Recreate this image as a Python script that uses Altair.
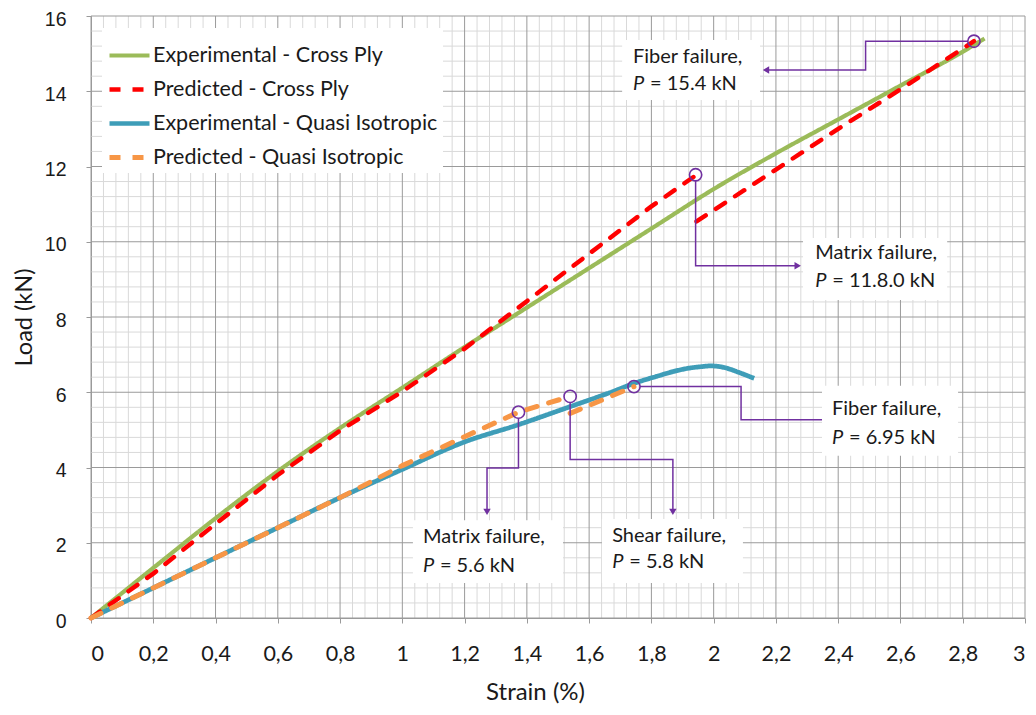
import altair as alt
import pandas as pd
import numpy as np

# ---------------- data ----------------
SERIES = ["Experimental - Cross Ply", "Predicted - Cross Ply",
          "Experimental - Quasi Isotropic", "Predicted - Quasi Isotropic"]
COLORS = ["#9BBB59", "#FF0000", "#3E9DB8", "#F79646"]
DASHES = [[1, 0], [11, 12], [1, 0], [11, 12]]
WIDTHS = [4.2, 5, 5.2, 4.6]

x_ticks = [0, 0.2, 0.4, 0.6, 0.8, 1.0, 1.2, 1.4, 1.6, 1.8, 2.0, 2.2, 2.4, 2.6, 2.8, 3.0]
y_ticks = [0, 2, 4, 6, 8, 10, 12, 14, 16]

# Experimental - Cross Ply
exp_cp_strain = [0, 0.2, 0.4, 0.6, 0.8, 1.0, 1.2, 1.4, 1.6, 1.8, 2.0, 2.2, 2.4, 2.6, 2.8, 2.87]
exp_cp_load = [0, 1.33, 2.65, 3.90, 5.05, 6.12, 7.20, 8.25, 9.30, 10.35, 11.40, 12.35, 13.25, 14.15, 15.05, 15.40]

# Predicted - Cross Ply (two branches)
pred_cp_strain_a = [0, 0.2, 0.4, 0.6, 0.8, 1.0, 1.2, 1.4, 1.6, 1.8, 1.94]
pred_cp_load_a = [0, 1.18, 2.50, 3.80, 4.98, 6.02, 7.16, 8.42, 9.68, 10.94, 11.75]
pred_cp_strain_b = [1.945, 2.2, 2.4, 2.6, 2.836]
pred_cp_load_b = [10.54, 11.92, 13.00, 14.05, 15.33]

# Experimental - Quasi Isotropic
exp_qi_strain = [0, 0.2, 0.4, 0.6, 0.8, 1.0, 1.2, 1.37, 1.54, 1.66, 1.76, 1.82, 1.87, 1.92,
                 1.96, 1.99, 2.02, 2.05, 2.08, 2.13]
exp_qi_load = [0, 0.80, 1.60, 2.40, 3.20, 3.95, 4.68, 5.13, 5.62, 5.97, 6.28, 6.43, 6.55, 6.64,
               6.68, 6.70, 6.68, 6.62, 6.53, 6.37]

# Predicted - Quasi Isotropic (two branches)
pred_qi_strain_a = [0, 0.2, 0.4, 0.6, 0.8, 1.0, 1.2, 1.373, 1.539]
pred_qi_load_a = [0, 0.80, 1.60, 2.40, 3.20, 4.05, 4.82, 5.47, 5.89]
pred_qi_strain_b = [1.539, 1.744]
pred_qi_load_b = [5.44, 6.15]

# Failure annotations
ann_id = ["fcp", "mcp", "fqi", "sqi", "mqi"]
ann_line1 = ["Fiber failure,", "Matrix failure,", "Fiber failure,", "Shear failure,", "Matrix failure,"]
ann_line2 = ["= 15.4 kN", "= 11.8.0 kN", "= 6.95 kN", "= 5.8 kN", "= 5.6 kN"]
circle_strain = [2.836, 1.942, 1.744, 1.539, 1.373]
circle_load = [15.33, 11.78, 6.15, 5.89, 5.47]
# text anchor (left, baseline of line 1, baseline of line 2)
text_strain = [1.741, 2.326, 2.380, 1.674, 1.066]
text_load1 = [14.75, 9.54, 5.40, 2.02, 1.99]
text_load2 = [14.03, 8.80, 4.62, 1.33, 1.22]
# white label boxes
box_x1 = [1.706, 2.287, 2.348, 1.641, 1.034]
box_x2 = [2.149, 2.750, 2.785, 2.094, 1.516]
box_y1 = [15.36, 10.10, 6.17, 2.63, 2.60]
box_y2 = [13.77, 8.45, 4.31, 0.93, 0.93]
# leader paths
path_strain = [[2.817, 2.488, 2.488, 2.168],
               [1.942, 1.942, 2.270],
               [1.763, 2.088, 2.088, 2.350],
               [1.539, 1.539, 1.869, 1.869],
               [1.373, 1.373, 1.272, 1.272]]
path_load = [[15.33, 15.33, 14.565, 14.565],
             [11.62, 9.36, 9.36],
             [6.15, 6.15, 5.27, 5.27],
             [5.73, 4.21, 4.21, 2.82],
             [5.31, 3.99, 3.99, 2.82]]
arrow_strain = [2.168, 2.270, 1.869, 1.272]
arrow_load = [14.565, 9.36, 2.82, 2.82]
arrow_shape = ["triangle-left", "triangle-right", "triangle-down", "triangle-down"]

# ---------------- tables ----------------
def branch(name, seg, xs, ys):
    return pd.DataFrame({"series": name, "seg": f"{name}-{seg}",
                         "strain": xs, "load": ys, "i": range(len(xs))})

exp_df = pd.concat([branch(SERIES[0], 0, exp_cp_strain, exp_cp_load),
                    branch(SERIES[2], 0, exp_qi_strain, exp_qi_load)])
pred_df = pd.concat([branch(SERIES[1], 0, pred_cp_strain_a, pred_cp_load_a),
                     branch(SERIES[1], 1, pred_cp_strain_b, pred_cp_load_b),
                     branch(SERIES[3], 0, pred_qi_strain_a, pred_qi_load_a),
                     branch(SERIES[3], 1, pred_qi_strain_b, pred_qi_load_b)])

ann_df = pd.DataFrame({"id": ann_id, "l1": ann_line1, "l2": ann_line2,
                       "cx": circle_strain, "cy": circle_load,
                       "tx": text_strain, "ty1": text_load1, "ty2": text_load2,
                       "bx1": box_x1, "bx2": box_x2, "by1": box_y1, "by2": box_y2})
path_df = pd.concat([pd.DataFrame({"id": ann_id[k], "x": path_strain[k], "y": path_load[k],
                                   "i": range(len(path_strain[k]))}) for k in range(len(ann_id))])
arrow_df = pd.DataFrame({"x": arrow_strain, "y": arrow_load, "shape": arrow_shape})

x_minor = pd.DataFrame({"v": [v for v in np.round(np.arange(0, 3.0001, 0.04), 3)
                              if abs(v / 0.2 - round(v / 0.2)) > 1e-6]})
x_major = pd.DataFrame({"v": x_ticks})
y_minor = pd.DataFrame({"v": [v for v in np.round(np.arange(0, 16.0001, 0.4), 3)
                              if abs(v / 2 - round(v / 2)) > 1e-6]})
y_major = pd.DataFrame({"v": y_ticks})

# ---------------- chart ----------------
W, H = 934, 602
FONT = "Lato"
TXT = "#1a1a1a"
PURPLE = "#7030A0"
MINOR, MAJOR = "#D9D9D9", "#9A9A9A"
xs = alt.Scale(domain=[0, 3], nice=False, zero=False)
ys = alt.Scale(domain=[0, 16], nice=False, zero=False)

x_axis = alt.Axis(values=x_ticks, grid=False, domainColor=MAJOR, tickColor=MAJOR, tickSize=5,
                  labelFont=FONT, labelFontSize=21.5, labelColor=TXT, labelPadding=20,
                  labelExpr="replace(format(datum.value, '.1~f'), '.', ',')",
                  title="Strain (%)", titleFont=FONT, titleFontSize=24, titleFontWeight="normal",
                  titleColor=TXT, titleX=444, titleY=74, titleAlign="center", titleBaseline="middle")
y_axis = alt.Axis(values=y_ticks, grid=False, domainColor=MAJOR, tickColor=MAJOR, tickSize=5,
                  labelFont="Liberation Sans", labelFontSize=19.5, labelColor=TXT, labelPadding=20,
                  labelOffset=3,
                  title="Load (kN)", titleFont=FONT, titleFontSize=23.5, titleFontWeight="normal",
                  titleColor=TXT, titleX=-67, titleY=301, titleAlign="center", titleBaseline="middle",
                  titleAngle=270)

def X(field):
    return alt.X(field, scale=xs, axis=x_axis)

def Y(field):
    return alt.Y(field, scale=ys, axis=y_axis)

def vrule(df, color):
    return alt.Chart(df).mark_rule(color=color, strokeWidth=1).encode(x=X("v:Q"))

def hrule(df, color):
    return alt.Chart(df).mark_rule(color=color, strokeWidth=1).encode(y=Y("v:Q"))

grid = vrule(x_minor, MINOR) + hrule(y_minor, MINOR) + vrule(x_major, MAJOR) + hrule(y_major, MAJOR)

legend = alt.Legend(title=None, orient="none", legendX=11, legendY=12, fillColor="white",
                    padding=5, symbolType="stroke", symbolSize=1600, symbolStrokeWidth=5,
                    labelFont=FONT, labelFontSize=21.5, labelColor=TXT, labelLimit=500,
                    labelOffset=1, rowPadding=1)

color = alt.Color("series:N", scale=alt.Scale(domain=SERIES, range=COLORS), legend=legend)
dash = alt.StrokeDash("series:N", scale=alt.Scale(domain=SERIES, range=DASHES), legend=legend)
width = alt.StrokeWidth("series:N", scale=alt.Scale(domain=SERIES, range=WIDTHS), legend=None)

exp_lines = alt.Chart(exp_df).mark_line(interpolate="monotone").encode(
    x=X("strain:Q"), y=Y("load:Q"),
    color=color, strokeDash=dash, strokeWidth=width, detail="seg:N", order="i:Q")

pred_lines = alt.Chart(pred_df).mark_line(strokeCap="round").encode(
    x=X("strain:Q"), y=Y("load:Q"),
    color=color, strokeDash=dash, strokeWidth=width, detail="seg:N", order="i:Q")

leaders = alt.Chart(path_df).mark_line(color=PURPLE, strokeWidth=1.5).encode(
    x=X("x:Q"), y=Y("y:Q"), detail="id:N", order="i:Q")

boxes = alt.Chart(ann_df).mark_rect(fill="white").encode(
    x=X("bx1:Q"), x2="bx2:Q", y=Y("by1:Q"), y2="by2:Q")

t1 = alt.Chart(ann_df).mark_text(align="left", baseline="alphabetic", font=FONT, fontSize=20,
                                 color=TXT).encode(x=X("tx:Q"), y=Y("ty1:Q"), text="l1:N")
tp = alt.Chart(ann_df).mark_text(align="left", baseline="alphabetic", font=FONT, fontSize=20,
                                 fontStyle="italic", color=TXT).encode(
    x=X("tx:Q"), y=Y("ty2:Q"), text=alt.value("P"))
t2 = alt.Chart(ann_df).mark_text(align="left", baseline="alphabetic", font=FONT, fontSize=20,
                                 dx=17, color=TXT).encode(x=X("tx:Q"), y=Y("ty2:Q"), text="l2:N")

circles = alt.Chart(ann_df).mark_point(shape="circle", filled=False, size=150, strokeWidth=1.6,
                                       color=PURPLE, opacity=1).encode(x=X("cx:Q"), y=Y("cy:Q"))

arrows = alt.Chart(arrow_df).mark_point(filled=True, size=55, color=PURPLE, opacity=1).encode(
    x=X("x:Q"), y=Y("y:Q"), shape=alt.Shape("shape:N", scale=None))

chart = alt.layer(grid, exp_lines, pred_lines, leaders, boxes, t1, tp, t2, circles, arrows).properties(
    width=W, height=H,
    autosize=alt.AutoSizeParams(type="none"),
    padding={"left": 83, "top": 8, "right": 3, "bottom": 95},
    background="white",
).configure_view(stroke="transparent").configure_axis(grid=False)

chart.save("out.html", embed_options={"renderer": "svg", "actions": False})
